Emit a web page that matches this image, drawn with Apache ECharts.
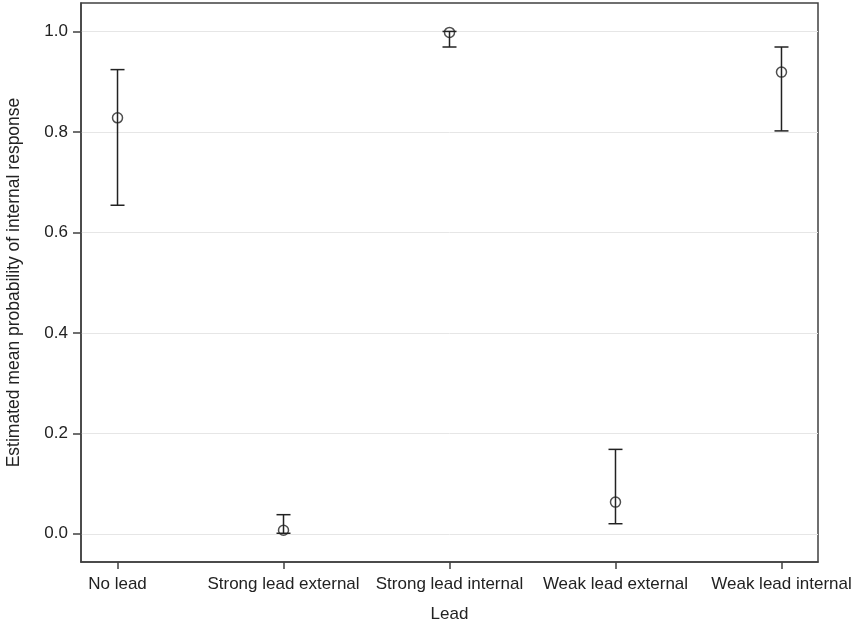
<!DOCTYPE html>
<html>
<head>
<meta charset="utf-8">
<script src="https://cdn.jsdelivr.net/npm/echarts@6/dist/echarts.min.js"></script>
<style>html,body{margin:0;padding:0;background:#fff;}#c{width:853px;height:627px;}</style>
</head>
<body>
<div id="c"></div>
<script>
var categories = ['No lead', 'Strong lead external', 'Strong lead internal', 'Weak lead external', 'Weak lead internal'];
var means = [0.828, 0.007, 0.998, 0.063, 0.919];
var lowers = [0.654, 0.001, 0.969, 0.020, 0.802];
var uppers = [0.924, 0.038, 1.000, 0.168, 0.969];
var yTicks = [0, 0.2, 0.4, 0.6, 0.8, 1.0];

var catIdx = categories.map(function (c, i) { return i; });
var pointData = means.map(function (m, i) { return [i, m]; });
var errData = means.map(function (m, i) { return [i, lowers[i], uppers[i]]; });

var FONT = 'Liberation Sans, Arial, sans-serif';
var TXT = '#222';
var AX = '#404040';

var chart = echarts.init(document.getElementById('c'), null, { renderer: 'canvas' });
chart.setOption({
  animation: false,
  grid: { left: 81, right: 35, top: 3, bottom: 65, show: true, borderColor: AX, borderWidth: 1.5,
    backgroundColor: 'transparent', containLabel: false, outerBoundsMode: 'none' },
  xAxis: {
    type: 'value', min: -0.22, max: 4.22,
    name: 'Lead', nameLocation: 'middle', nameGap: 44,
    nameTextStyle: { fontFamily: FONT, fontSize: 17, color: TXT },
    axisLine: { show: true, onZero: false, lineStyle: { color: AX, width: 1.5 } },
    axisTick: { show: true, length: 7, customValues: catIdx, lineStyle: { color: AX, width: 1.5 } },
    axisLabel: { customValues: catIdx, margin: 14, fontFamily: FONT, fontSize: 17, color: TXT,
      formatter: function (v) { return categories[Math.round(v)]; } },
    splitLine: { show: false }
  },
  yAxis: {
    type: 'value', min: -0.0562, max: 1.0566,
    name: 'Estimated mean probability of internal response', nameLocation: 'middle', nameGap: 58,
    nameTextStyle: { fontFamily: FONT, fontSize: 17.5, color: TXT },
    axisLine: { show: true, onZero: false, lineStyle: { color: AX, width: 1.5 } },
    axisTick: { show: true, length: 8, customValues: yTicks, lineStyle: { color: AX, width: 1.5 } },
    axisLabel: { customValues: yTicks, margin: 13, fontFamily: FONT, fontSize: 17, color: TXT,
      formatter: function (v) { return v.toFixed(1); } },
    splitLine: { show: true, lineStyle: { color: '#e6e6e6', width: 1 } }
  },
  series: [
    {
      type: 'custom',
      data: errData,
      renderItem: function (params, api) {
        var x = api.value(0);
        var lo = api.coord([x, api.value(1)]);
        var hi = api.coord([x, api.value(2)]);
        var hw = 7;
        var style = { stroke: '#222', lineWidth: 1.5, fill: null };
        return {
          type: 'group',
          children: [
            { type: 'line', shape: { x1: lo[0], y1: lo[1], x2: hi[0], y2: hi[1] }, style: style },
            { type: 'line', shape: { x1: lo[0] - hw, y1: lo[1], x2: lo[0] + hw, y2: lo[1] }, style: style },
            { type: 'line', shape: { x1: hi[0] - hw, y1: hi[1], x2: hi[0] + hw, y2: hi[1] }, style: style }
          ]
        };
      },
      z: 2
    },
    {
      type: 'scatter',
      data: pointData,
      symbol: 'circle',
      symbolSize: 10,
      itemStyle: { color: 'rgba(255,255,255,0)', borderColor: '#222', borderWidth: 1.5 },
      z: 3
    }
  ]
});
</script>
</body>
</html>
